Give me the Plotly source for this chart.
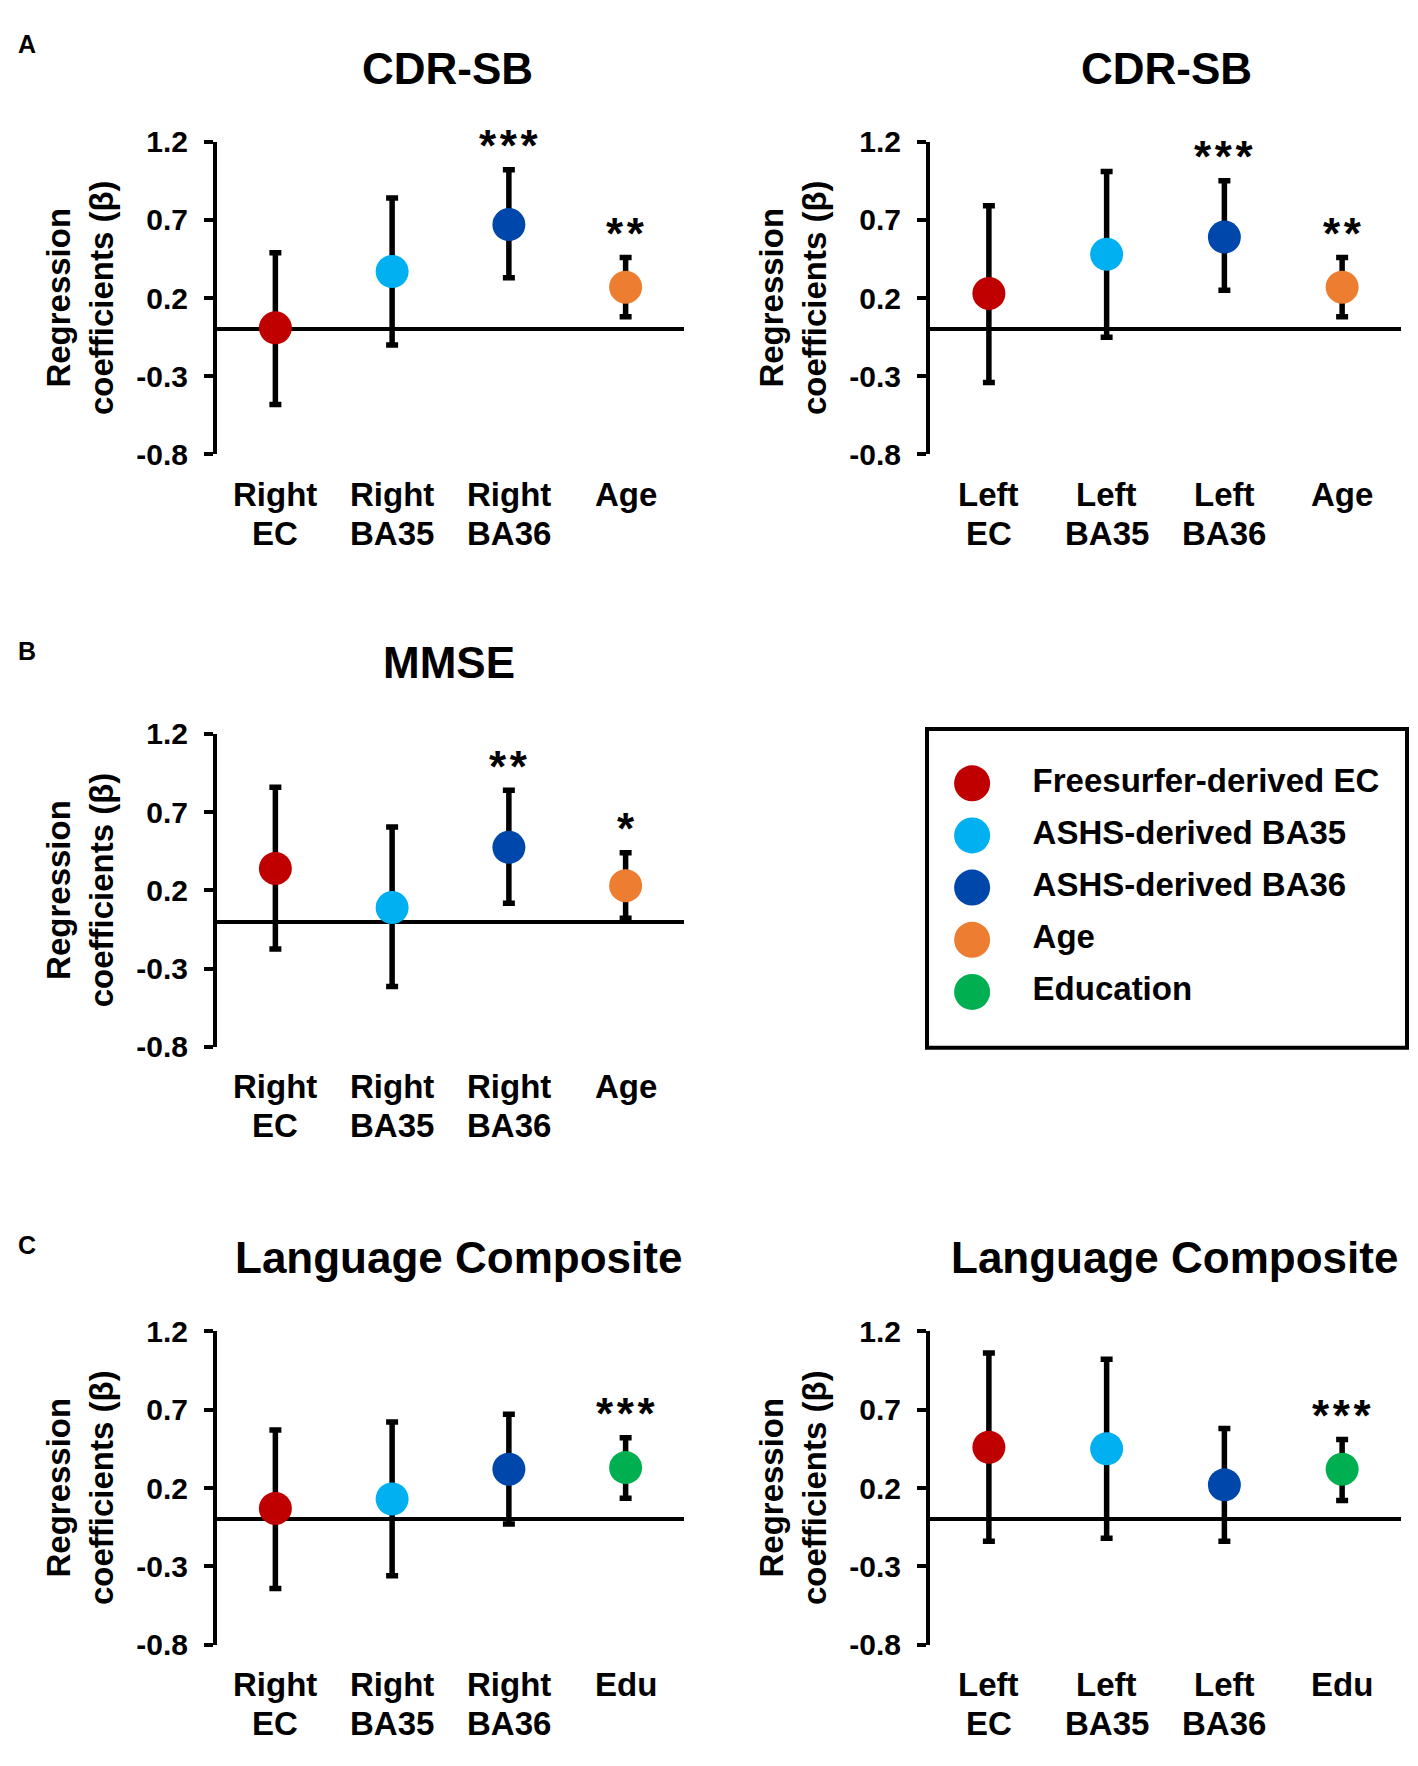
import plotly.graph_objects as go

# regression coefficients (beta) with 95% CI
cats_right = ["Right<br>EC", "Right<br>BA35", "Right<br>BA36", "Age"]
cats_left = ["Left<br>EC", "Left<br>BA35", "Left<br>BA36", "Age"]
cats_lang_right = ["Right<br>EC", "Right<br>BA35", "Right<br>BA36", "Edu"]
cats_lang_left = ["Left<br>EC", "Left<br>BA35", "Left<br>BA36", "Edu"]

cdr_right_beta = [0.01, 0.37, 0.67, 0.27]
cdr_right_hi = [0.49, 0.84, 1.02, 0.46]
cdr_right_lo = [-0.48, -0.10, 0.33, 0.08]
cdr_right_sig = ["", "", "***", "**"]

cdr_left_beta = [0.23, 0.48, 0.59, 0.27]
cdr_left_hi = [0.79, 1.01, 0.95, 0.46]
cdr_left_lo = [-0.34, -0.05, 0.25, 0.08]
cdr_left_sig = ["", "", "***", "**"]

mmse_right_beta = [0.34, 0.09, 0.475, 0.23]
mmse_right_hi = [0.86, 0.605, 0.84, 0.44]
mmse_right_lo = [-0.175, -0.415, 0.117, 0.022]
mmse_right_sig = ["", "", "**", "*"]

lang_right_beta = [0.07, 0.13, 0.32, 0.33]
lang_right_hi = [0.57, 0.62, 0.67, 0.52]
lang_right_lo = [-0.44, -0.36, -0.03, 0.135]
lang_right_sig = ["", "", "", "***"]

lang_left_beta = [0.46, 0.45, 0.22, 0.32]
lang_left_hi = [1.06, 1.02, 0.58, 0.51]
lang_left_lo = [-0.14, -0.12, -0.14, 0.12]
lang_left_sig = ["", "", "", "***"]

legend_labels = ["Freesurfer-derived EC", "ASHS-derived BA35", "ASHS-derived BA36",
                 "Age", "Education"]
legend_colors = ["#C00000", "#00B0F0", "#0047AB", "#ED7D31", "#00B050"]

colors_age = legend_colors[:3] + [legend_colors[3]]
colors_edu = legend_colors[:3] + [legend_colors[4]]

# page body has an 8px margin, so the figure is made smaller and shifted
PAD = 8
W, H = 1418 - 2 * PAD, 1766 - 2 * PAD
FONT = "Liberation Sans, Arial, sans-serif"


def px_x(p):
    return (p - PAD) / W


def px_y(p):
    return 1 - (p - PAD) / H


# (categories, beta, hi, lo, sig, colors, x pixel span, y pixel span, title, title x px, title y px)
panels = [
    (cats_right, cdr_right_beta, cdr_right_hi, cdr_right_lo, cdr_right_sig, colors_age,
     (217, 684), (127, 446), "CDR-SB", 447, 52),
    (cats_left, cdr_left_beta, cdr_left_hi, cdr_left_lo, cdr_left_sig, colors_age,
     (930, 1401), (127, 446), "CDR-SB", 1166, 52),
    (cats_right, mmse_right_beta, mmse_right_hi, mmse_right_lo, mmse_right_sig, colors_age,
     (217, 684), (731, 1050), "MMSE", 449, 658),
    (cats_lang_right, lang_right_beta, lang_right_hi, lang_right_lo, lang_right_sig, colors_edu,
     (217, 684), (1340, 1660), "Language Composite", 458, 1265),
    (cats_lang_left, lang_left_beta, lang_left_hi, lang_left_lo, lang_left_sig, colors_edu,
     (930, 1401), (1340, 1660), "Language Composite", 1174, 1265),
]

fig = go.Figure()
annotations = []
layout = {}

for i, (cats, beta, hi, lo, sig, cols, xs, ys, title, tx, ty) in enumerate(panels):
    n = i + 1
    xa = "x" if n == 1 else f"x{n}"
    ya = "y" if n == 1 else f"y{n}"
    xpos = list(range(len(cats)))
    fig.add_trace(go.Scatter(
        x=xpos, y=beta, xaxis=xa, yaxis=ya, mode="markers",
        marker=dict(size=33, color=cols, line=dict(width=0)),
        error_y=dict(type="data", symmetric=False,
                     array=[h - b for h, b in zip(hi, beta)],
                     arrayminus=[b - l for b, l in zip(beta, lo)],
                     color="black", thickness=5.5, width=6),
        showlegend=False, hoverinfo="skip"))

    layout["xaxis" if n == 1 else f"xaxis{n}"] = dict(
        domain=[px_x(xs[0]), px_x(xs[1])], anchor=ya, range=[-0.5, 3.5],
        showticklabels=False, showgrid=False, zeroline=False, showline=False, ticks="")
    layout["yaxis" if n == 1 else f"yaxis{n}"] = dict(
        domain=[px_y(ys[1]), px_y(ys[0])], anchor=xa, range=[-0.8, 1.2],
        tickvals=[-0.8, -0.3, 0.2, 0.7, 1.2], ticktext=["-0.8", "-0.3", "0.2", "0.7", "1.2"],
        showgrid=False, showline=True, linecolor="black", linewidth=4,
        ticks="outside", ticklen=9, tickwidth=4, tickcolor="black", ticklabelstandoff=10,
        zeroline=True, zerolinecolor="black", zerolinewidth=4,
        tickfont=dict(family=FONT, size=30, color="black", weight="bold"))

    # y-axis title
    annotations.append(dict(
        x=0, y=0.5, xref=f"{xa} domain", yref=f"{ya} domain", xshift=-137,
        text="Regression<br>coefficients (β)", textangle=-90, showarrow=False,
        xanchor="center", yanchor="middle",
        font=dict(family=FONT, size=33, color="black", weight="bold")))

    # category labels, two lines under the axis
    for k, c in enumerate(cats):
        for j, part in enumerate(c.split("<br>")):
            annotations.append(dict(
                x=k, y=0, xref=xa, yref=f"{ya} domain", yshift=-40 - 39 * j,
                text=part, showarrow=False, xanchor="center", yanchor="middle",
                font=dict(family=FONT, size=33, color="black", weight="bold")))

    # significance stars, a fixed distance above the upper CI end
    for k, s in enumerate(sig):
        if s:
            annotations.append(dict(
                x=k, y=hi[k], xref=xa, yref=ya, text="\u200a".join(s),
                showarrow=False, yanchor="middle", yshift=24,
                font=dict(family=FONT, size=44, color="black", weight="bold")))

    annotations.append(dict(
        x=px_x(tx), y=px_y(ty), xref="paper", yref="paper", text=title, showarrow=False,
        xanchor="center", yanchor="middle",
        font=dict(family=FONT, size=44, color="black", weight="bold")))

# panel letters
for letter, ly in [("A", 27), ("B", 646), ("C", 1252)]:
    annotations.append(dict(
        x=px_x(27), y=px_y(ly), xref="paper", yref="paper", text=letter, showarrow=False,
        xanchor="center", yanchor="middle",
        font=dict(family=FONT, size=25, color="black", weight="bold")))

# legend drawn in its own hidden axes
idx = list(range(len(legend_labels)))
fig.add_trace(go.Scatter(
    x=[0.094] * len(idx), y=idx, xaxis="x6", yaxis="y6", mode="markers",
    marker=dict(size=36, color=legend_colors), showlegend=False, hoverinfo="skip"))
fig.add_trace(go.Scatter(
    x=[0.22] * len(idx), y=idx, xaxis="x6", yaxis="y6", mode="text",
    text=legend_labels, textposition="middle right",
    textfont=dict(family=FONT, size=33, color="black", weight="bold"),
    showlegend=False, hoverinfo="skip"))
layout["xaxis6"] = dict(domain=[px_x(927), px_x(1407)], anchor="y6", range=[0, 1],
                        visible=False)
layout["yaxis6"] = dict(domain=[px_y(1051), px_y(726)], anchor="x6", range=[5.07, -1.04],
                        visible=False)

fig.update_layout(
    width=W, height=H, autosize=False,
    margin=dict(l=0, r=0, t=0, b=0),
    paper_bgcolor="white", plot_bgcolor="white",
    annotations=annotations,
    shapes=[dict(type="rect", xref="paper", yref="paper",
                 x0=px_x(927), x1=px_x(1407), y0=px_y(1051), y1=px_y(726),
                 line=dict(color="black", width=4))],
    **layout)

fig.write_html("out.html")
